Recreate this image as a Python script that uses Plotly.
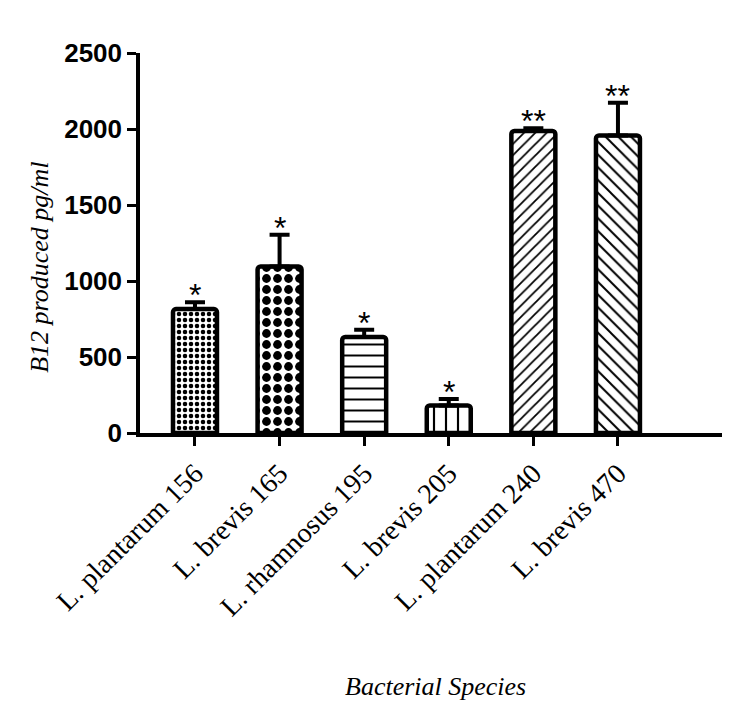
import plotly.graph_objects as go

categories = ["L. plantarum 156", "L. brevis 165", "L. rhamnosus 195",
              "L. brevis 205", "L. plantarum 240", "L. brevis 470"]
b12_mean = [815, 1095, 632, 181, 1987, 1957]
b12_err = [45, 210, 48, 42, 18, 215]
significance = ["*", "*", "*", "*", "**", "**"]
y_ticks = [0, 500, 1000, 1500, 2000, 2500]

pattern_shapes = [".", ".", "-", "|", "/", "\\"]
pattern_sizes = [6, 11, 11, 12, 8, 9]
pattern_solidity = [0.45, 0.5, 0.18, 0.18, 0.22, 0.22]

fig = go.Figure()
fig.add_trace(go.Bar(
    x=categories,
    y=b12_mean,
    width=0.52,
    marker=dict(
        color="white",
        line=dict(color="black", width=4.5),
        cornerradius=3,
        pattern=dict(shape=pattern_shapes, size=pattern_sizes,
                     solidity=pattern_solidity, fgcolor="black",
                     bgcolor="white", fillmode="replace"),
    ),
    error_y=dict(type="data", symmetric=False, array=b12_err,
                 arrayminus=[0] * len(b12_err), thickness=4, width=10,
                 color="black"),
    showlegend=False,
))

for cat, m, e, s in zip(categories, b12_mean, b12_err, significance):
    fig.add_annotation(x=cat, y=m + e, text=s, showarrow=False,
                       xref="x", yref="y", yanchor="bottom", yshift=-13,
                       font=dict(family="Liberation Sans", size=32, color="black"))

fig.add_annotation(text="B12 produced pg/ml", xref="paper", yref="paper",
                   x=-0.172, y=0.437, xanchor="center", yanchor="middle",
                   textangle=-90, showarrow=False,
                   font=dict(family="Liberation Serif", size=26, color="black", style="italic"))
fig.add_annotation(text="Bacterial Species", xref="paper", yref="paper",
                   x=0.507, y=-0.666, xanchor="center", yanchor="middle",
                   showarrow=False,
                   font=dict(family="Liberation Serif", size=26, color="black", style="italic"))

fig.update_layout(
    width=730, height=719,
    margin=dict(l=132, r=16, t=45, b=294),
    plot_bgcolor="white", paper_bgcolor="white",
    xaxis=dict(range=[-0.65, 6.23], showline=True, linecolor="black", linewidth=3.5,
               ticks="outside", ticklen=9, tickwidth=3, tickcolor="black",
               tickangle=-45, showgrid=False, zeroline=False, automargin=False,
               tickfont=dict(family="Liberation Serif", size=28, color="black")),
    yaxis=dict(range=[0, 2500], tickvals=y_ticks, showline=True, linecolor="black",
               linewidth=3.5, ticks="outside", ticklen=9, tickwidth=3, tickcolor="black",
               showgrid=False, zeroline=False, automargin=False,
               tickfont=dict(family="Liberation Sans", size=26, color="black", weight="bold")),
)

fig.write_html("out.html")
